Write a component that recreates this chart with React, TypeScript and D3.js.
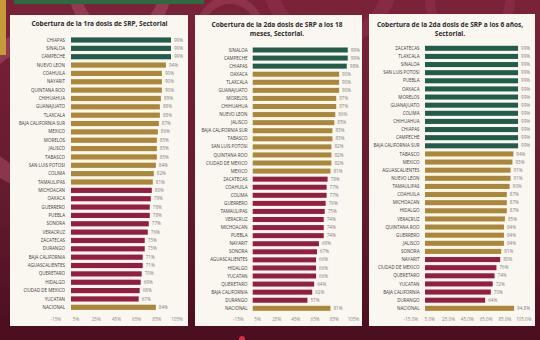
import React from "react";
import * as d3 from "d3";

const p1States = ["CHIAPAS","SINALOA","CAMPECHE","NUEVO LEON","COAHUILA","NAYARIT","QUINTANA ROO","CHIHUAHUA","GUANAJUATO","TLAXCALA","BAJA CALIFORNIA SUR","MEXICO","MORELOS","JALISCO","TABASCO","SAN LUIS POTOSI","COLIMA","TAMAULIPAS","MICHOACAN","OAXACA","GUERRERO","PUEBLA","SONORA","VERACRUZ","ZACATECAS","DURANGO","BAJA CALIFORNIA","AGUASCALIENTES","QUERETARO","HIDALGO","CIUDAD DE MEXICO","YUCATAN","NACIONAL"];
const p1Values = [99,99,99,94,90,90,90,89,88,88,87,86,85,85,85,84,82,81,80,79,78,78,77,76,73,73,71,71,70,69,68,67,84];

const p2States = ["SINALOA","CAMPECHE","CHIAPAS","OAXACA","TLAXCALA","GUANAJUATO","MORELOS","CHIHUAHUA","NUEVO LEON","JALISCO","BAJA CALIFORNIA SUR","TABASCO","SAN LUIS POTOSI","QUINTANA ROO","CIUDAD DE MEXICO","MEXICO","ZACATECAS","COAHUILA","COLIMA","GUERRERO","TAMAULIPAS","VERACRUZ","MICHOACAN","PUEBLA","NAYARIT","SONORA","AGUASCALIENTES","HIDALGO","YUCATAN","QUERETARO","BAJA CALIFORNIA","DURANGO","NACIONAL"];
const p2Values = [99,99,98,90,90,90,87,87,86,85,83,83,82,82,82,81,78,77,77,76,75,74,74,74,69,67,66,66,66,64,62,57,81];

const p3States = ["ZACATECAS","TLAXCALA","SINALOA","SAN LUIS POTOSI","PUEBLA","OAXACA","MORELOS","GUANAJUATO","COLIMA","CHIHUAHUA","CHIAPAS","CAMPECHE","BAJA CALIFORNIA SUR","TABASCO","MEXICO","AGUASCALIENTES","NUEVO LEON","TAMAULIPAS","COAHUILA","MICHOACAN","HIDALGO","VERACRUZ","QUINTANA ROO","GUERRERO","JALISCO","SONORA","NAYARIT","CIUDAD DE MEXICO","QUERETARO","YUCATAN","BAJA CALIFORNIA","DURANGO","NACIONAL"];
const p3Values = [99,99,99,99,99,99,99,99,99,99,99,99,99,94,93,91,91,90,87,87,87,85,84,84,84,81,80,76,74,72,70,64,94.8];

const axisTicks = [-15, 5, 25, 45, 65, 85, 105];

const titles1 = ["Cobertura de la 1ra dosis de SRP, Sectorial"];
const titles2 = ["Cobertura de la 2da dosis de SRP a los 18", "meses, Sectorial."];
const titles3 = ["Cobertura de la 2da dosis de SRP a los 6 años,", "Sectorial."];

const GREEN = "#245c4c";
const GOLD = "#ab8739";
const RED = "#931f40";

function colorFor(name: string, v: number) {
  if (name === "NACIONAL") return GOLD;
  if (v >= 95) return GREEN;
  if (v > 80) return GOLD;
  return RED;
}

const FONT = "'Open Sans', 'DejaVu Sans', sans-serif";

type PanelProps = {
  states: string[];
  values: number[];
  titles: string[];
  card: [number, number, number, number];
  zeroX: number;
  pxPer: number;
  rowTop: number;
  rowBottom: number;
  labelX: number;
  titleX: number;
  titleY: number;
  valFmt: (v: number) => string;
  tickFmt: (v: number) => string;
};

function Panel(p: PanelProps) {
  const x = d3.scaleLinear().domain([-15, 105]).range([p.zeroX - 15 * p.pxPer, p.zeroX + 105 * p.pxPer]);
  const n = p.states.length;
  const step = (p.rowBottom - p.rowTop) / (n - 1);
  const y = d3.scaleBand<string>().domain(p.states).range([p.rowTop - step / 2, p.rowBottom + step / 2]).paddingInner(0.38).paddingOuter(0.19);
  const [cx, cy, cw, ch] = p.card;
  return (
    <g>
      <rect x={cx} y={cy} width={cw} height={ch} fill="#faf6f0" />
      {p.titles.map((t, i) => (
        <text key={i} x={p.titleX} y={p.titleY + i * 8.5} dy="0.35em" textAnchor="middle" fontFamily={FONT} fontWeight={700} fontSize={6.5} fill="#2a2a2a">{t}</text>
      ))}
      {p.states.map((s, i) => {
        const v = p.values[i];
        const yy = y(s)!;
        const bh = y.bandwidth();
        return (
          <g key={s}>
            <text x={p.labelX} y={yy + bh / 2} dy="0.35em" textAnchor="end" fontFamily={FONT} fontSize={4.5} fill="#3a3a3a">{s}</text>
            <rect x={x(0)} y={yy} width={x(v) - x(0)} height={bh} fill={colorFor(s, v)} />
            <text x={x(v) + 3} y={yy + bh / 2} dy="0.35em" fontFamily={FONT} fontSize={4.6} fill="#808080">{p.valFmt(v)}</text>
          </g>
        );
      })}
      {axisTicks.map((t) => (
        <text key={t} x={x(t)} y={319} dy="0.35em" textAnchor="middle" fontFamily={FONT} fontSize={4.6} fill="#8a8a8a">{p.tickFmt(t)}</text>
      ))}
    </g>
  );
}

export default function App() {
  return (
    <svg width={540} height={340} style={{ position: "absolute", left: 0, top: 0 }}>
      <defs>
        <linearGradient id="bg" x1="0" y1="0" x2="0" y2="1">
          <stop offset="0" stopColor="#7a2238" />
          <stop offset="0.6" stopColor="#641a2e" />
          <stop offset="1" stopColor="#4a0e1e" />
        </linearGradient>
      </defs>
      <rect x={0} y={0} width={540} height={340} fill="url(#bg)" />
      <g fill="none" strokeOpacity={0.4}>
        <circle cx={40} cy={110} r={70} stroke="#c0607a" strokeWidth={18} />
        <circle cx={120} cy={-10} r={45} stroke="#c0607a" strokeWidth={12} />
        <circle cx={330} cy={-20} r={60} stroke="#9a3a55" strokeWidth={14} />
        <circle cx={470} cy={0} r={40} stroke="#9a3a55" strokeWidth={10} />
        <circle cx={230} cy={30} r={30} stroke="#b04a66" strokeWidth={8} />
      </g>
      <rect x={0} y={0} width={6} height={55} fill="#c69a3a" />
      <rect x={14} y={0} width={190} height={4} fill="#2d6a3e" />
      <circle cx={242} cy={339} r={3} fill="#d0304a" />
      <Panel states={p1States} values={p1Values} titles={titles1} card={[10, 15, 178, 311]}
        zeroX={71} pxPer={1.01} rowTop={40} rowBottom={307.3} labelX={65} titleX={99.5} titleY={24}
        valFmt={(v) => `${v}%`} tickFmt={(v) => `${v}%`} />
      <Panel states={p2States} values={p2Values} titles={titles2} card={[195, 15, 167, 311]}
        zeroX={252.7} pxPer={0.96} rowTop={50} rowBottom={308.3} labelX={247.5} titleX={277} titleY={25}
        valFmt={(v) => `${v}%`} tickFmt={(v) => `${v}%`} />
      <Panel states={p3States} values={p3Values} titles={titles3} card={[369, 14, 166, 312]}
        zeroX={425} pxPer={0.94} rowTop={48.3} rowBottom={308.3} labelX={419.5} titleX={450} titleY={25}
        valFmt={(v) => (Number.isInteger(v) ? `${v}%` : `${v.toFixed(1)}%`)} tickFmt={(v) => `${v.toFixed(1)}%`} />
    </svg>
  );
}
